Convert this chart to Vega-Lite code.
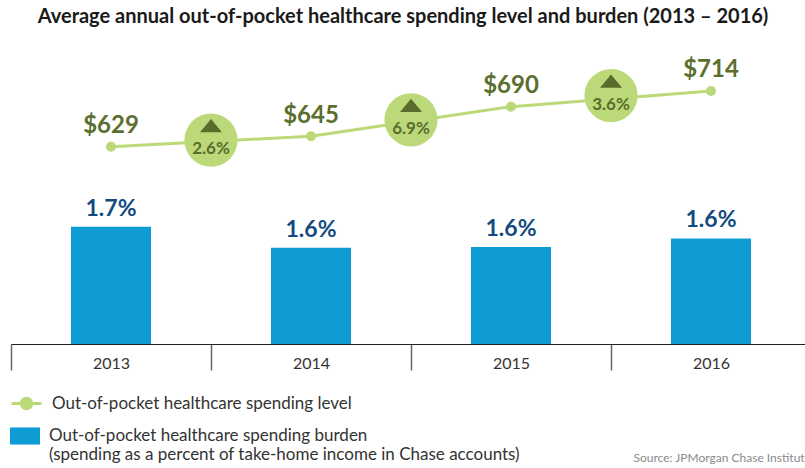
{
  "$schema": "https://vega.github.io/schema/vega-lite/v6.json",
  "width": 794,
  "height": 314,
  "autosize": {"type": "none"},
  "padding": {"left": 11, "top": 30, "right": 0, "bottom": 124},
  "background": "white",
  "config": {"font": "Lato", "view": {"stroke": null}},
  "title": {
    "text": "Average annual out-of-pocket healthcare spending level and burden (2013 – 2016)",
    "font": "Lato",
    "fontSize": 20,
    "fontWeight": "bold",
    "color": "#1a1a1a",
    "anchor": "middle",
    "frame": "group",
    "baseline": "alphabetic",
    "offset": 8,
    "dx": -5,
    "dy": 21
  },
  "datasets": {
    "level": [
      {"year": "2013", "spend": 629},
      {"year": "2014", "spend": 645},
      {"year": "2015", "spend": 690},
      {"year": "2016", "spend": 714}
    ],
    "burden": [
      {"year": "2013", "burden": 0.017},
      {"year": "2014", "burden": 0.01565},
      {"year": "2015", "burden": 0.0157},
      {"year": "2016", "burden": 0.01625}
    ],
    "growth": [
      {"year": "2013", "growth": 0.026, "mid": 639},
      {"year": "2014", "growth": 0.069, "mid": 670},
      {"year": "2015", "growth": 0.036, "mid": 707}
    ]
  },
  "encoding": {
    "x": {
      "field": "year",
      "type": "ordinal",
      "scale": {"range": [0, 800], "paddingInner": 0, "paddingOuter": 0},
      "axis": {
        "title": "Source: JPMorgan Chase Institute",
        "titleFont": "Lato",
        "titleFontSize": 12,
        "titleFontWeight": "normal",
        "titleColor": "#8a8a8a",
        "titleX": 622,
        "titleY": 113,
        "titleAlign": "left",
        "titleBaseline": "middle",
        "labelAngle": 0,
        "labelFont": "Lato",
        "labelFontSize": 16,
        "labelColor": "#333333",
        "labelPadding": -7,
        "labelBaseline": "middle",
        "tickBand": "extent",
        "tickSize": 26,
        "tickColor": "#666666",
        "tickWidth": 1.5,
        "domainColor": "#222222",
        "domainWidth": 1,
        "grid": false,
        "zindex": 1
      }
    }
  },
  "layer": [
    {
      "data": {"name": "burden"},
      "encoding": {
        "y": {
          "field": "burden",
          "type": "quantitative",
          "scale": {"domain": [0.00946, 0.02965], "zero": false, "nice": false},
          "axis": null
        }
      },
      "layer": [
        {
          "mark": {"type": "bar", "width": {"band": 0.4}, "clip": true},
          "encoding": {
            "color": {
              "datum": "burden",
              "scale": {"range": ["#0f9bd3"]},
              "legend": {
                "title": null,
                "orient": "none",
                "legendX": -1,
                "legendY": 391,
                "padding": 0,
                "symbolType": "M-1,-0.57L1,-0.57L1,0.57L-1,0.57Z",
                "symbolSize": 900,
                "symbolStrokeWidth": 0,
                "labelFont": "Lato",
                "labelFontSize": 17,
                "labelColor": "#333333",
                "labelOffset": 9,
                "labelLimit": 700,
                "labelBaseline": "middle",
                "labelExpr": "['Out-of-pocket healthcare spending burden', '(spending as a percent of take-home income in Chase accounts)']"
              }
            }
          }
        },
        {
          "mark": {"type": "text", "font": "Lato", "fontWeight": "bold", "fontSize": 23, "color": "#134b7f", "baseline": "alphabetic", "dy": -11},
          "encoding": {
            "text": {"field": "burden", "type": "quantitative", "format": ".1%"}
          }
        }
      ]
    },
    {
      "encoding": {
        "y": {"type": "quantitative", "scale": {"domain": [328, 807], "zero": false, "nice": false}, "axis": null}
      },
      "layer": [
        {
          "data": {"name": "level"},
          "mark": {"type": "line", "strokeWidth": 3},
          "encoding": {
            "y": {"field": "spend", "type": "quantitative", "scale": {"domain": [328, 807], "zero": false, "nice": false}, "axis": null},
            "stroke": {
              "datum": "level",
              "scale": {"range": ["#bcd97a"]},
              "legend": {
                "title": null,
                "orient": "none",
                "legendX": -1,
                "legendY": 357,
                "padding": 0,
                "symbolType": "M-1,0L1,0M0.35,0A0.35,0.35 0 1,1 -0.35,0A0.35,0.35 0 1,1 0.35,0Z",
                "symbolSize": 900,
                "symbolStrokeWidth": 3,
                "symbolFillColor": "#bcd97a",
                "labelFont": "Lato",
                "labelFontSize": 17,
                "labelColor": "#333333",
                "labelOffset": 9,
                "labelLimit": 700,
                "labelExpr": "'Out-of-pocket healthcare spending level'"
              }
            }
          }
        },
        {
          "data": {"name": "growth"},
          "mark": {"type": "point", "filled": true, "size": 2830, "color": "#bcd97a", "opacity": 1},
          "encoding": {
            "x": {"field": "year", "type": "ordinal", "bandPosition": 1},
            "y": {"field": "mid", "type": "quantitative", "scale": {"domain": [328, 807], "zero": false, "nice": false}, "axis": null}
          }
        },
        {
          "data": {"name": "growth"},
          "mark": {"type": "point", "filled": true, "shape": "M0,-0.6L1,0.6L-1,0.6Z", "size": 484, "color": "#5a6c2c", "opacity": 1, "yOffset": -14.5},
          "encoding": {
            "x": {"field": "year", "type": "ordinal", "bandPosition": 1},
            "y": {"field": "mid", "type": "quantitative", "scale": {"domain": [328, 807], "zero": false, "nice": false}, "axis": null}
          }
        },
        {
          "data": {"name": "growth"},
          "mark": {"type": "text", "font": "Lato", "fontWeight": "bold", "fontSize": 17, "color": "#5a6c2c", "baseline": "middle", "yOffset": 9},
          "encoding": {
            "x": {"field": "year", "type": "ordinal", "bandPosition": 1},
            "y": {"field": "mid", "type": "quantitative", "scale": {"domain": [328, 807], "zero": false, "nice": false}, "axis": null},
            "text": {"field": "growth", "type": "quantitative", "format": ".1%"}
          }
        },
        {
          "data": {"name": "level"},
          "mark": {"type": "point", "filled": true, "size": 100, "color": "#bcd97a", "opacity": 1},
          "encoding": {
            "y": {"field": "spend", "type": "quantitative", "scale": {"domain": [328, 807], "zero": false, "nice": false}, "axis": null}
          }
        },
        {
          "data": {"name": "level"},
          "mark": {"type": "text", "font": "Lato", "fontWeight": "bold", "fontSize": 24, "color": "#5b6f2f", "baseline": "alphabetic", "dy": -13.5},
          "encoding": {
            "y": {"field": "spend", "type": "quantitative", "scale": {"domain": [328, 807], "zero": false, "nice": false}, "axis": null},
            "text": {"field": "spend", "type": "quantitative", "format": "$.0f"}
          }
        }
      ]
    }
  ],
  "resolve": {"scale": {"y": "independent"}}
}
